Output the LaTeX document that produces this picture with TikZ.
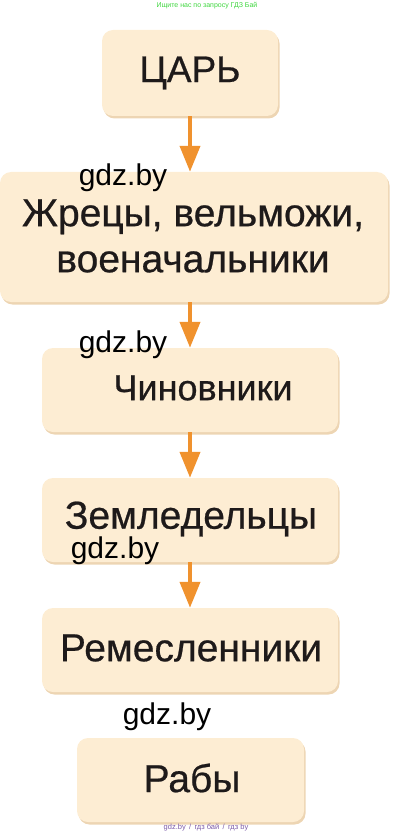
\documentclass[tikz,border=0pt]{standalone}
\usepackage{fontspec}
\setmainfont{Liberation Sans}
\newfontfamily\boxfont[FakeBold=0.6]{Liberation Sans}
\usetikzlibrary{arrows.meta}
\definecolor{boxfill}{HTML}{FDEDD3}
\definecolor{boxshade}{HTML}{EDD5B3}
\definecolor{arrowc}{HTML}{F0922E}
\definecolor{txt}{HTML}{1E1A1A}
\definecolor{topgreen}{HTML}{3DD63D}
\definecolor{botpurple}{HTML}{7A5AA8}
\tikzset{
  stagebox/.style={rectangle, rounded corners=11pt, fill=boxfill, inner sep=0pt,
    preaction={fill=boxshade, transform canvas={xshift=1.5pt, yshift=-2.5pt}}},
  stagetext/.style={text=txt, font=\boxfont\fontsize{39}{46}\selectfont, align=center, inner sep=0pt},
  flowarrow/.style={draw=arrowc, line width=4pt, -{Triangle[length=26pt, width=20pt]}},
  wmark/.style={text=black, font=\fontsize{30}{31}\selectfont, inner sep=0pt}
}
\begin{document}
\begin{tikzpicture}[x=1pt,y=-1pt]
\useasboundingbox (0,0) rectangle (415,834);
\node[stagebox, minimum width=176pt, minimum height=86pt] (b1) at (190,73) {};
\node[stagebox, minimum width=388pt, minimum height=130pt] (b2) at (194,237) {};
\node[stagebox, minimum width=296pt, minimum height=84pt] (b3) at (190,390) {};
\node[stagebox, minimum width=296pt, minimum height=84pt] (b4) at (190,520) {};
\node[stagebox, minimum width=296pt, minimum height=84pt] (b5) at (190,650) {};
\node[stagebox, minimum width=227pt, minimum height=84pt] (b6) at (190.5,780) {};
\node[stagetext, font=\boxfont\fontsize{37}{44}\selectfont] (t1) at (190,73) {ЦАРЬ};
\node[stagetext] (t2) at (193,236) {Жрецы, вельможи,\\военачальники};
\node[stagetext, font=\boxfont\fontsize{36}{44}\selectfont] (t3) at (203,388) {Чиновники};
\node[stagetext] (t4) at (191,519) {Земледельцы};
\node[stagetext] (t5) at (191,648) {Ремесленники};
\node[stagetext] (t6) at (192,778) {Рабы};
\draw[flowarrow] (b1.south -| 190,0) -- (b2.north -| 190,0);
\draw[flowarrow] (b2.south -| 190,0) -- (b3.north -| 190,0);
\draw[flowarrow] (b3.south -| 190,0) -- (b4.north -| 190,0);
\draw[flowarrow] (b4.south -| 190,0) -- (b5.north -| 190,0);
\node[wmark] (w1) at (123,178) {gdz.by};
\node[wmark] (w2) at (123,345) {gdz.by};
\node[wmark] (w3) at (115,551) {gdz.by};
\node[wmark] (w4) at (167,717) {gdz.by};
\node[text=topgreen, font=\fontsize{7}{8}\selectfont, inner sep=0pt] (top) at (207,6) {Ищите нас по запросу ГДЗ Бай};
\node[text=botpurple, font=\fontsize{7.5}{8}\selectfont, inner sep=0pt] (bot) at (206,827) {gdz.by \,/\, гдз бай \,/\, гдз by};
\end{tikzpicture}
\end{document}
